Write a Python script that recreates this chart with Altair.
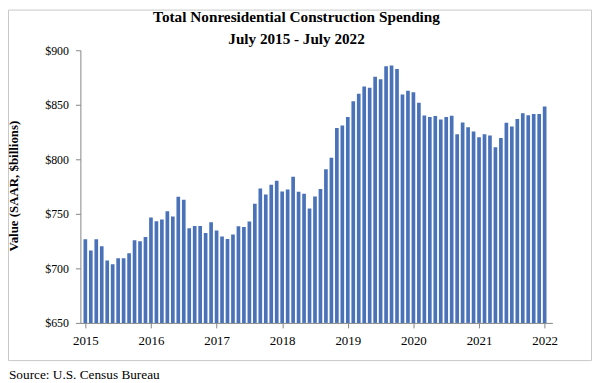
import altair as alt
import pandas as pd

# Monthly values, July 2015 .. July 2022 ($ billions, SAAR)
values = [
    726.7, 716.5, 726.7, 720.2, 707.3, 703.7, 709.2, 709.2, 713.8, 725.8, 724.8, 728.8,
    746.6, 743.2, 744.8, 752.4, 747.6, 765.6, 762.9, 736.8, 738.9, 738.9, 732.5, 742.3,
    734.7, 729.2, 727.0, 731.0, 738.6, 738.0, 743.0, 759.2, 773.3, 767.8, 776.7, 780.3,
    770.6, 772.4, 784.0, 770.2, 768.4, 755.0, 766.0, 772.7, 791.0, 801.4, 828.6, 831.0,
    838.9, 853.3, 860.0, 866.7, 865.5, 875.6, 873.4, 885.3, 886.0, 882.9, 859.4, 862.8,
    861.5, 851.9, 840.2, 838.7, 839.6, 836.5, 838.7, 839.9, 823.0, 833.8, 829.5, 825.5,
    820.3, 823.0, 821.8, 811.0, 819.5, 833.5, 830.0, 837.0, 842.3, 840.5, 841.6, 841.5,
    848.5,
]
month_names = ["Jul", "Aug", "Sep", "Oct", "Nov", "Dec", "Jan", "Feb", "Mar", "Apr", "May", "Jun"]
year_labels = ["2015", "2016", "2017", "2018", "2019", "2020", "2021", "2022"]
y_ticks = [650, 700, 750, 800, 850, 900]

months = [f"{month_names[i % 12]} {2015 + (i + 6) // 12}" for i in range(len(values))]
df = pd.DataFrame({"idx": list(range(len(values))), "month": months, "value": values})

FONT = "Liberation Serif"
AXIS_GRAY = "#868686"
W, H = 476, 275

tick_pos = [12 * i for i in range(len(year_labels))]
label_expr = "[" + ",".join(f"'{y}'" for y in year_labels) + "][round(datum.value/12)]"

bars = alt.Chart(df).mark_bar(size=3.7, color="#4A72B8", clip=True).encode(
    x=alt.X("idx:Q",
            scale=alt.Scale(domain=[0, 84.5], nice=False, zero=False),
            axis=alt.Axis(values=tick_pos, labelExpr=label_expr, title=None, grid=False,
                          tickSize=5, tickColor=AXIS_GRAY, domainColor=AXIS_GRAY,
                          labelFont=FONT, labelFontSize=13, labelColor="black",
                          labelPadding=7, labelFlush=False)),
    y=alt.Y("value:Q",
            scale=alt.Scale(domain=[650, 900], nice=False, zero=False),
            axis=alt.Axis(values=y_ticks, format="$.0f", title=None, grid=False,
                          tickSize=5, tickColor=AXIS_GRAY, domainColor=AXIS_GRAY,
                          labelFont=FONT, labelFontSize=12, labelColor="black",
                          labelPadding=7)),
    y2=alt.datum(650),
)

one = alt.Data(values=[{"a": 1}])

title1 = alt.Chart(one).mark_text(text="Total Nonresidential Construction Spending",
                                  font=FONT, fontSize=15.4, fontWeight="bold", color="black",
                                  align="center", baseline="middle").encode(
    x=alt.value(218), y=alt.value(-33))
title2 = alt.Chart(one).mark_text(text="July 2015 - July 2022",
                                  font=FONT, fontSize=15.3, fontWeight="bold", color="black",
                                  align="center", baseline="middle").encode(
    x=alt.value(218), y=alt.value(-11))
ytitle = alt.Chart(one).mark_text(text="Value (SAAR, $billions)", angle=270,
                                  font=FONT, fontSize=13, fontWeight="bold", color="black",
                                  align="center", baseline="middle").encode(
    x=alt.value(-67), y=alt.value(137))
source = alt.Chart(one).mark_text(text="Source:  U.S. Census Bureau",
                                  font=FONT, fontSize=13.4, color="black",
                                  align="left", baseline="middle").encode(
    x=alt.value(-72), y=alt.value(328))
border = alt.Chart(one).mark_rect(fillOpacity=0, stroke="#C8C8C8", strokeWidth=1).encode(
    x=alt.value(-72.5), x2=alt.value(515.5), y=alt.value(-40.5), y2=alt.value(313))

chart = alt.layer(border, bars, title1, title2, ytitle, source).properties(
    width=W, height=H,
    autosize=alt.AutoSizeParams(type="none"),
    padding={"left": 73, "top": 41, "right": 40, "bottom": 59},
).configure_view(stroke=None)

chart.save("out.html", embed_options={"renderer": "svg", "actions": False})
